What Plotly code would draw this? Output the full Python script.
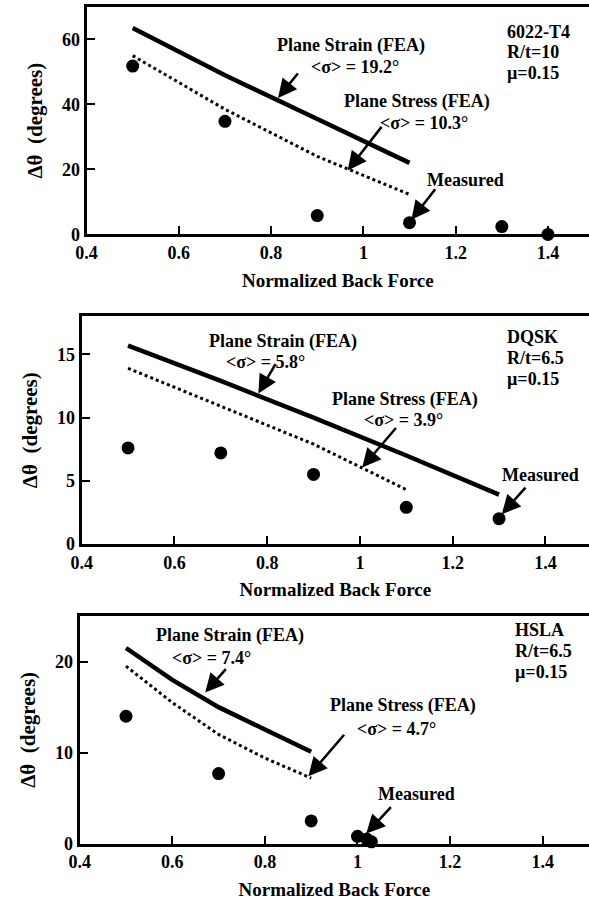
import plotly.graph_objects as go

# ---- 6022-T4 (R/t=10, mu=0.15) ----
fea_x_a = [0.5, 0.7, 0.9, 1.1]
strain_a = [63.5, 49.0, 35.5, 22.0]
stress_a = [55.0, 38.5, 24.0, 12.3]
meas_x_a = [0.5, 0.7, 0.9, 1.1, 1.3, 1.4]
meas_a = [51.8, 34.8, 5.8, 3.6, 2.4, 0.0]

# ---- DQSK (R/t=6.5, mu=0.15) ----
strain_x_b = [0.5, 0.7, 0.9, 1.1, 1.3]
strain_b = [15.7, 12.9, 10.0, 7.0, 3.9]
stress_x_b = [0.5, 0.7, 0.9, 1.1]
stress_b = [13.9, 10.9, 7.9, 4.3]
meas_x_b = [0.5, 0.7, 0.9, 1.1, 1.3, 1.5]
meas_b = [7.6, 7.2, 5.5, 2.9, 2.0, 0.2]

# ---- HSLA (R/t=6.5, mu=0.15) ----
fea_x_c = [0.5, 0.6, 0.7, 0.8, 0.9]
strain_c = [21.5, 18.0, 15.0, 12.6, 10.1]
stress_c = [19.5, 15.5, 12.0, 9.4, 7.2]
meas_x_c = [0.5, 0.7, 0.9, 1.0, 1.02, 1.03]
meas_c = [14.0, 7.7, 2.5, 0.8, 0.5, 0.2]

x_ticks = [0.4, 0.6, 0.8, 1.0, 1.2, 1.4]
x_tick_text = ["0.4", "0.6", "0.8", "1", "1.2", "1.4"]

W, H = 589, 910
FONT = "Liberation Serif"
INK = "black"


def px(xp):
    return xp / W


def py(yp):
    return 1 - yp / H


panels = [
    dict(left=77, top=7, bottom=237, xmax=1.489, ymax=70, yticks=[0, 20, 40, 60],
         strain=(fea_x_a, strain_a), stress=(fea_x_a, stress_a), meas=(meas_x_a, meas_a)),
    dict(left=72, top=320, bottom=550, xmax=1.494, ymax=18, yticks=[0, 5, 10, 15],
         strain=(strain_x_b, strain_b), stress=(stress_x_b, stress_b), meas=(meas_x_b, meas_b)),
    dict(left=70, top=623, bottom=853, xmax=1.5, ymax=25, yticks=[0, 10, 20],
         strain=(fea_x_c, strain_c), stress=(fea_x_c, stress_c), meas=(meas_x_c, meas_c)),
]

fig = go.Figure()
layout = {}
annotations = []

tick_font = dict(family=FONT, size=18, color=INK, weight="bold")
title_font = dict(family=FONT, size=19, color=INK, weight="bold")

for i, p in enumerate(panels):
    n = "" if i == 0 else str(i + 1)
    xa, ya = "x" + n, "y" + n
    sx, sy = p["strain"]
    tx, ty = p["stress"]
    mx, my = p["meas"]
    fig.add_trace(go.Scatter(x=sx, y=sy, xaxis=xa, yaxis=ya, mode="lines",
                             line=dict(color=INK, width=4.5), showlegend=False))
    fig.add_trace(go.Scatter(x=tx, y=ty, xaxis=xa, yaxis=ya, mode="lines",
                             line=dict(color=INK, width=3, dash="dot"), showlegend=False))
    fig.add_trace(go.Scatter(x=mx, y=my, xaxis=xa, yaxis=ya, mode="markers",
                             marker=dict(color=INK, size=13), cliponaxis=False,
                             showlegend=False))

    layout["xaxis" + n] = dict(
        domain=[px(p["left"]), 1], range=[0.4, p["xmax"]], anchor=ya,
        tickvals=x_ticks, ticktext=x_tick_text, ticks="inside", ticklen=8,
        tickwidth=2, tickcolor=INK, showline=True, linewidth=3, linecolor=INK,
        mirror=True, showgrid=False, zeroline=False, tickfont=tick_font,
        title=dict(text="Normalized Back Force", standoff=12, font=title_font),
    )
    layout["yaxis" + n] = dict(
        domain=[py(p["bottom"]), py(p["top"])], range=[0, p["ymax"]], anchor=xa,
        tickvals=p["yticks"], ticks="inside", ticklen=8, tickwidth=2,
        tickcolor=INK, showline=True, linewidth=3, linecolor=INK,
        showgrid=False, zeroline=False, tickfont=tick_font,
        title=dict(text="Δθ  (degrees)", standoff=14,
                   font=dict(family=FONT, size=21, color=INK, weight="bold")),
    )

bold = dict(family=FONT, size=18, color=INK, weight="bold")


def label(xp, yp, text, xanchor="center"):
    annotations.append(dict(x=px(xp), y=py(yp), xref="paper", yref="paper",
                            text=text, showarrow=False, font=bold,
                            xanchor=xanchor, yanchor="middle"))


def arrow(xa, ya, x, y, ax, ay):
    annotations.append(dict(x=x, y=y, xref=xa, yref=ya, ax=ax, ay=ay,
                            text="", showarrow=True, arrowhead=2, arrowsize=1.5,
                            arrowwidth=2.5, arrowcolor=INK, standoff=0))


# 6022-T4
label(346, 46, "Plane Strain (FEA)")
label(351, 68, "&lt;σ&gt; = 19.2°")
arrow("x", "y", 0.815, 42.0, 21, -26)
label(414, 103, "Plane Stress (FEA)")
label(421, 124, "&lt;σ&gt; = 10.3°")
arrow("x", "y", 0.966, 19.7, 35, -45)
label(463, 182, "Measured")
arrow("x", "y", 1.104, 4.5, 25, -32)
label(503, 32, "6022-T4", "left")
label(503, 53, "R/t=10", "left")
label(503, 74, "µ=0.15", "left")

# DQSK
label(277, 345, "Plane Strain (FEA)")
label(259, 366, "&lt;σ&gt; = 5.8°")
arrow("x2", "y2", 0.781, 11.9, 18, -31)
label(402, 404, "Plane Stress (FEA)")
label(400, 425, "&lt;σ&gt; = 3.9°")
arrow("x2", "y2", 1.005, 6.05, 35, -41)
label(540, 480, "Measured")
arrow("x2", "y2", 1.306, 2.36, 25, -28)
label(503, 341, "DQSK", "left")
label(503, 362, "R/t=6.5", "left")
label(503, 383, "µ=0.15", "left")

# HSLA
label(223, 643, "Plane Strain (FEA)")
label(204, 665, "&lt;σ&gt; = 7.4°")
arrow("x3", "y3", 0.671, 16.6, 22, -25)
label(399, 713, "Plane Stress (FEA)")
label(393, 737, "&lt;σ&gt; = 4.7°")
arrow("x3", "y3", 0.894, 7.4, 37, -43)
label(413, 803, "Measured")
arrow("x3", "y3", 1.019, 1.1, 26, -28)
label(512, 637, "HSLA", "left")
label(512, 658, "R/t=6.5", "left")
label(512, 679, "µ=0.15", "left")

fig.update_layout(
    width=W, height=H, margin=dict(l=0, r=0, t=0, b=0),
    paper_bgcolor="white", plot_bgcolor="white",
    annotations=annotations, **layout,
)

fig.write_html("out.html")
